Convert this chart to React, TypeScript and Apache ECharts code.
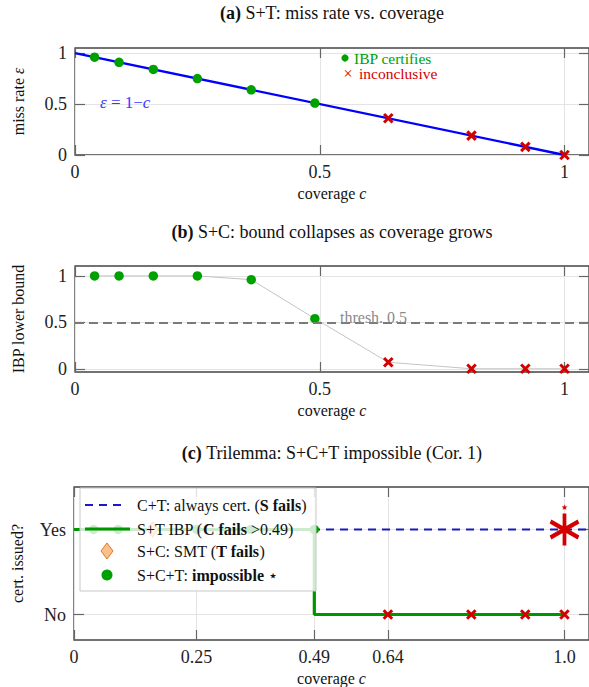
import React, { useEffect, useRef } from "react";
import * as echarts from "echarts";

// ---------- data ----------
const certC = [0.04, 0.09, 0.16, 0.25, 0.36, 0.49];
const incC = [0.64, 0.81, 0.92, 1.0];
const missCert = [0.96, 0.91, 0.84, 0.75, 0.64, 0.51];
const missInc = [0.36, 0.19, 0.08, 0.0];
const lineC = [0, 1];
const lineEps = [1, 0];
const boundCert = [1.0, 1.0, 1.0, 1.0, 0.96, 0.54];
const boundInc = [0.07, 0.0, 0.0, 0.0];
const thresh = 0.5;
const stepC = [0, 0.49, 0.49, 1.0];
const stepIssued = [1, 1, 0, 0];
const alwaysC = [0, 1.05];
const alwaysIssued = [1, 1];
const certIssued = [1, 1, 1, 1, 1, 1];
const incIssued = [0, 0, 0, 0];
const smtC = [0.16];
const smtIssued = [1];
const impossibleC = [1.0];
const impossibleIssued = [1];
const abTicks = [0, 0.5, 1];
const cXTicks = [0, 0.25, 0.49, 0.64, 1.0];
const cXLabels = ["0", "0.25", "0.49", "0.64", "1.0"];
const cYTicks = [0, 1];
const cYLabels = ["No", "Yes"];

const zip = (xs: number[], ys: number[]) => xs.map((x, i) => [x, ys[i]]);

const FONT = '"Liberation Serif", "Times New Roman", serif';
const GREEN = "#00a000";
const GREEN_LINE = "#009600";
const RED = "#d40000";
const BLUE = "#0000ff";
const XPATH = "path://M0,0L10,10M10,0L0,10";
const ASTER = "path://M0,-10L0,10M-8.66,-5L8.66,5M-8.66,5L8.66,-5";
const xStyle = { color: "none", borderColor: RED, borderWidth: 3, opacity: 1 };

const GRIDS = [
  { left: 75, top: 48, width: 516.6, height: 107 },
  { left: 75, top: 266, width: 516.6, height: 106 },
  { left: 74, top: 487, width: 516.6, height: 153 },
];
const YR = [
  [0, 1.05],
  [-0.035, 1.107],
  [-0.3, 1.5],
];

const labelStyle = { fontFamily: FONT, fontSize: 18, color: "#222" };
const nameStyle = (extra: any = {}) => ({
  fontFamily: FONT,
  fontSize: 16,
  color: "#111",
  rich: { i: { fontFamily: FONT, fontSize: 16, fontStyle: "italic", color: "#111" } },
  ...extra,
});
const tickStyle = (vals: number[]) => ({
  show: true,
  inside: true,
  length: 10,
  customValues: vals,
  lineStyle: { color: "#666", width: 1.2 },
});

export default function App() {
  const ref = useRef<HTMLDivElement>(null);
  useEffect(() => {
    document.body.style.margin = "0";
    const chart = echarts.init(ref.current!, null, { renderer: "svg" });

    const xTicks = [abTicks, abTicks, cXTicks];
    const yTicks = [abTicks, abTicks, cYTicks];
    const xAxes: any[] = [];
    const yAxes: any[] = [];
    for (let i = 0; i < 3; i++) {
      xAxes.push({
        type: "value",
        gridIndex: i,
        min: 0,
        max: 1.05,
        position: "bottom",
        axisLine: { show: false, onZero: false },
        axisTick: tickStyle(xTicks[i]),
        axisLabel: {
          ...labelStyle,
          margin: 8,
          customValues: xTicks[i],
          formatter: (v: number) =>
            i === 2 ? cXLabels[cXTicks.indexOf(v)] ?? String(v) : String(v),
        },
        splitLine: { show: true, lineStyle: { color: "#e4e4e4", width: 1 } },
        name: "coverage {i|c}",
        nameLocation: "middle",
        nameGap: 30,
        nameTextStyle: nameStyle(),
      });
      yAxes.push({
        type: "value",
        gridIndex: i,
        min: YR[i][0],
        max: YR[i][1],
        position: "left",
        axisLine: { show: false, onZero: false },
        axisTick: tickStyle(yTicks[i]),
        axisLabel: {
          ...labelStyle,
          margin: 8,
          customValues: yTicks[i],
          formatter: (v: number) => (i === 2 ? cYLabels[v] : String(v)),
        },
        splitLine: { show: true, lineStyle: { color: "#e4e4e4", width: 1 } },
        name: i === 0 ? "miss rate {i|ε}" : i === 1 ? "IBP lower bound" : "cert. issued?",
        nameLocation: "middle",
        nameGap: 49,
        nameTextStyle: nameStyle(),
      });
    }
    for (let i = 0; i < 3; i++) {
      xAxes.push({
        type: "value",
        gridIndex: i,
        min: 0,
        max: 1.05,
        position: "top",
        axisLine: { show: false, onZero: false },
        axisTick: tickStyle(xTicks[i]),
        axisLabel: { show: false },
        splitLine: { show: false },
      });
      yAxes.push({
        type: "value",
        gridIndex: i,
        min: YR[i][0],
        max: YR[i][1],
        position: "right",
        axisLine: { show: false, onZero: false },
        axisTick: tickStyle(yTicks[i]),
        axisLabel: { show: false },
        splitLine: { show: false },
      });
    }

    const series: any[] = [
      // panel a
      {
        type: "line",
        xAxisIndex: 0,
        yAxisIndex: 0,
        data: zip(lineC, lineEps),
        symbol: "none",
        lineStyle: { color: BLUE, width: 2.3 },
        z: 2,
      },
      {
        type: "scatter",
        xAxisIndex: 0,
        yAxisIndex: 0,
        data: zip(certC, missCert),
        symbol: "circle",
        symbolSize: 9.5,
        itemStyle: { color: GREEN, opacity: 1 },
        z: 3,
      },
      {
        type: "scatter",
        xAxisIndex: 0,
        yAxisIndex: 0,
        data: zip(incC, missInc),
        symbol: XPATH,
        symbolSize: 8.5,
        itemStyle: xStyle,
        z: 3,
      },
      // panel b
      {
        type: "line",
        xAxisIndex: 1,
        yAxisIndex: 1,
        data: zip(certC.concat(incC), boundCert.concat(boundInc)),
        symbol: "none",
        lineStyle: { color: "#c4c4c4", width: 1 },
        z: 2,
        markLine: {
          silent: true,
          symbol: "none",
          label: { show: false },
          lineStyle: { color: "#7a7a7a", width: 2, type: [9, 5] },
          data: [{ yAxis: thresh }],
        },
      },
      {
        type: "scatter",
        xAxisIndex: 1,
        yAxisIndex: 1,
        data: zip(certC, boundCert),
        symbol: "circle",
        symbolSize: 9.5,
        itemStyle: { color: GREEN, opacity: 1 },
        z: 3,
      },
      {
        type: "scatter",
        xAxisIndex: 1,
        yAxisIndex: 1,
        data: zip(incC, boundInc),
        symbol: XPATH,
        symbolSize: 8.5,
        itemStyle: xStyle,
        z: 3,
      },
      // panel c
      {
        type: "line",
        xAxisIndex: 2,
        yAxisIndex: 2,
        data: zip(alwaysC, alwaysIssued),
        symbol: "none",
        lineStyle: { color: "#1a1ac0", width: 2, type: [8, 6] },
        z: 2,
      },
      {
        type: "line",
        xAxisIndex: 2,
        yAxisIndex: 2,
        data: zip(stepC, stepIssued),
        symbol: "none",
        lineStyle: { color: GREEN_LINE, width: 3.2 },
        z: 3,
      },
      {
        type: "scatter",
        xAxisIndex: 2,
        yAxisIndex: 2,
        data: zip(certC, certIssued),
        symbol: "circle",
        symbolSize: 9.5,
        itemStyle: { color: GREEN, opacity: 1 },
        z: 4,
      },
      {
        type: "scatter",
        xAxisIndex: 2,
        yAxisIndex: 2,
        data: zip(smtC, smtIssued),
        symbol: "diamond",
        symbolSize: [11, 15],
        itemStyle: { color: "#f9c08d", borderColor: "#dd7a1f", borderWidth: 1, opacity: 1 },
        z: 4,
      },
      {
        type: "scatter",
        xAxisIndex: 2,
        yAxisIndex: 2,
        data: zip(incC, incIssued),
        symbol: XPATH,
        symbolSize: 8.5,
        itemStyle: xStyle,
        z: 4,
      },
      {
        type: "scatter",
        xAxisIndex: 2,
        yAxisIndex: 2,
        data: zip(impossibleC, impossibleIssued),
        symbol: ASTER,
        symbolSize: [28, 32],
        itemStyle: { color: "none", borderColor: RED, borderWidth: 4, opacity: 1 },
        label: {
          show: true,
          position: "top",
          distance: -1,
          formatter: "★",
          color: RED,
          fontSize: 8,
        },
        z: 5,
      },
    ];

    const txt = (
      x: number,
      y: number,
      text: string,
      size: number,
      fill: string,
      align = "left",
      lh?: number
    ) => ({
      type: "text",
      x,
      y,
      z: 100,
      style: {
        text,
        fontFamily: FONT,
        fontSize: size,
        fill,
        align,
        verticalAlign: "middle",
        lineHeight: lh,
        rich: {
          n: { fontFamily: FONT, fontSize: size, fill, color: fill, lineHeight: lh },
          b: { fontFamily: FONT, fontSize: size, fontWeight: "bold", fill, color: fill, lineHeight: lh },
          i: { fontFamily: FONT, fontSize: size, fontStyle: "italic", fill, color: fill, lineHeight: lh },
        },
      },
    });

    const graphic: any[] = [
      txt(332, 13, "{b|(a)}{n| S+T: miss rate vs. coverage}", 18, "#111", "center"),
      txt(332, 232, "{b|(b)}{n| S+C: bound collapses as coverage grows}", 18, "#111", "center"),
      txt(332, 453, "{b|(c)}{n| Trilemma: S+C+T impossible (Cor. 1)}", 18, "#111", "center"),
      // panel a annotations
      { type: "circle", z: 100, shape: { cx: 345, cy: 58, r: 3.6 }, style: { fill: GREEN } },
      txt(354, 58, "IBP certifies", 15.5, GREEN, "left", 13),
      txt(348, 73.5, "×", 16, RED, "center", 13),
      txt(359, 73.5, "inconclusive", 15.5, RED, "left", 13),
      txt(100, 102, "{i|ε}{n| = 1−}{i|c}", 17, "#3a3aff"),
      // panel b annotation
      txt(340, 317, "thresh. 0.5", 16, "#8a8a8a"),
      // panel c legend
      {
        type: "rect",
        z: 100,
        shape: { x: 80, y: 488, width: 236, height: 103 },
        style: { fill: "rgba(255,255,255,0.8)", stroke: "#c8c8c8", lineWidth: 1 },
      },
      {
        type: "line",
        z: 101,
        shape: { x1: 85, y1: 505, x2: 127, y2: 505 },
        style: { stroke: "#1a1ac0", lineWidth: 2, lineDash: [8, 6] },
      },
      {
        type: "line",
        z: 101,
        shape: { x1: 85, y1: 529, x2: 130, y2: 529 },
        style: { stroke: GREEN_LINE, lineWidth: 3.2 },
      },
      {
        type: "polygon",
        z: 101,
        shape: { points: [[107, 543], [113, 551], [107, 559], [101, 551]] },
        style: { fill: "#f9c08d", stroke: "#dd7a1f", lineWidth: 1 },
      },
      { type: "circle", z: 101, shape: { cx: 107, cy: 575, r: 5.5 }, style: { fill: GREEN } },
      txt(137, 505, "{n|C+T: always cert. (}{b|S fails}{n|)}", 16, "#111"),
      txt(137, 529, "{n|S+T IBP (}{b|C fails}{n| >0.49)}", 16, "#111"),
      txt(137, 551, "{n|S+C: SMT (}{b|T fails}{n|)}", 16, "#111"),
      txt(137, 575, "{n|S+C+T: }{b|impossible}{n| ⋆}", 16, "#111"),
    ];

    chart.setOption({
      animation: false,
      backgroundColor: "#fff",
      grid: GRIDS.map((g) => ({
        ...g,
        show: true,
        borderColor: "#444",
        borderWidth: 1.3,
        backgroundColor: "transparent",
      })),
      xAxis: xAxes,
      yAxis: yAxes,
      series,
      graphic,
    });
    return () => chart.dispose();
  }, []);
  return <div ref={ref} style={{ width: 589, height: 687 }} />;
}
